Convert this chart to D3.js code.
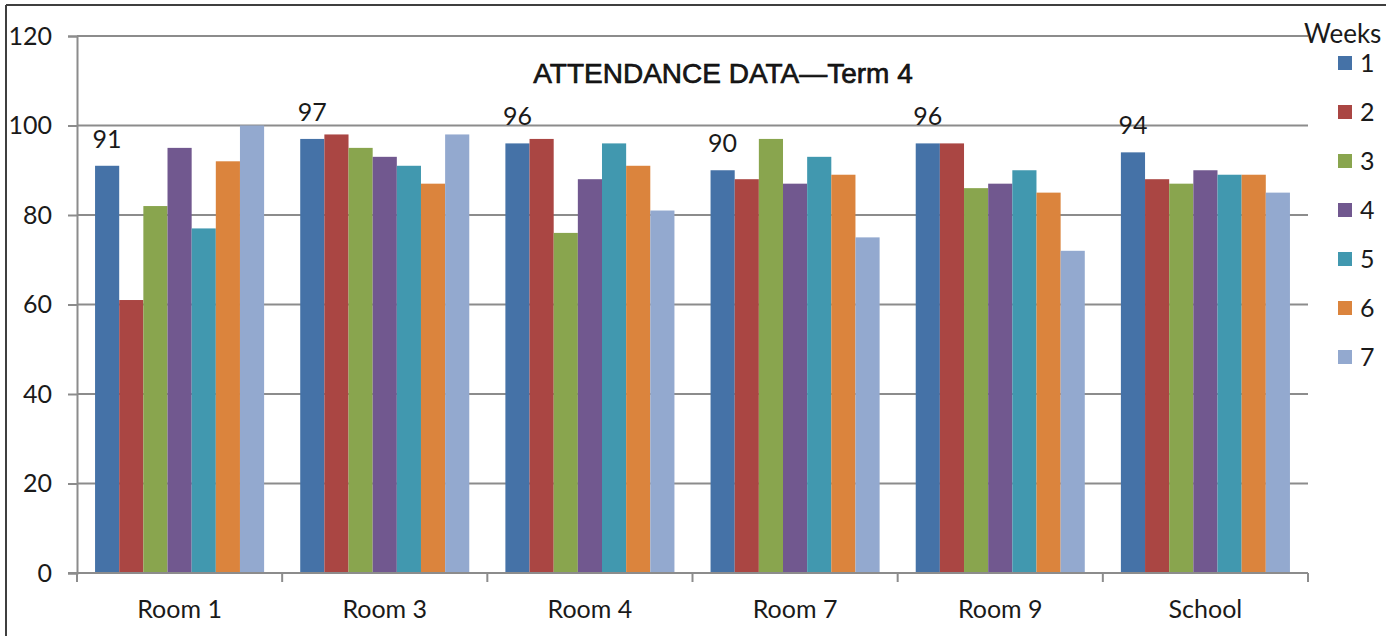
<!DOCTYPE html>
<html>
<head>
<meta charset="utf-8">
<script src="https://cdn.jsdelivr.net/npm/d3@7"></script>
<style>
  body { margin: 0; background: #fff; }
  text { font-family: Lato, "Open Sans", sans-serif; fill: #1a1a1a; }
</style>
</head>
<body>
<script>
// data
var rooms = ["Room 1", "Room 3", "Room 4", "Room 7", "Room 9", "School"];
var weeks = ["1", "2", "3", "4", "5", "6", "7"];
var week1 = [91, 97, 96, 90, 96, 94];
var week2 = [61, 98, 97, 88, 96, 88];
var week3 = [82, 95, 76, 97, 86, 87];
var week4 = [95, 93, 88, 87, 87, 90];
var week5 = [77, 91, 96, 93, 90, 89];
var week6 = [92, 87, 91, 89, 85, 89];
var week7 = [100, 98, 81, 75, 72, 85];
var yTicks = [0, 20, 40, 60, 80, 100, 120];
var colors = ["#4572A7", "#AA4643", "#89A54E", "#71588F", "#4198AF", "#DB843D", "#93A9CF"];

var series = [week1, week2, week3, week4, week5, week6, week7];

var width = 1386, height = 636;
var plotLeft = 77, plotRight = 1308, plotTop = 36, plotBottom = 573;

var svg = d3.select("body").append("svg")
  .attr("width", width).attr("height", height);

// frame (top + left edges visible)
svg.append("line").attr("x1", 6).attr("x2", width).attr("y1", 5).attr("y2", 5)
  .attr("stroke", "#3f3f3f").attr("stroke-width", 2);
svg.append("line").attr("x1", 6).attr("x2", 6).attr("y1", 5).attr("y2", height)
  .attr("stroke", "#3f3f3f").attr("stroke-width", 2);

var y = d3.scaleLinear().domain([0, 120]).range([plotBottom, plotTop]);
var x = d3.scaleBand().domain(rooms).range([plotLeft, plotRight])
  .paddingInner(0.176).paddingOuter(0.088);
var xw = d3.scaleBand().domain(weeks).range([0, x.bandwidth()]);

// gridlines
svg.selectAll(".grid").data(yTicks.filter(function(d){ return d > 0; }))
  .enter().append("line")
  .attr("x1", plotLeft).attr("x2", plotRight)
  .attr("y1", function(d){ return y(d); }).attr("y2", function(d){ return y(d); })
  .attr("stroke", "#8c8c8c").attr("stroke-width", 2);

// bars
var groups = svg.selectAll(".room").data(rooms).enter().append("g")
  .attr("transform", function(d){ return "translate(" + x(d) + ",0)"; });

groups.selectAll("rect")
  .data(function(r, i){ return weeks.map(function(w, j){ return {w: w, j: j, v: series[j][i]}; }); })
  .enter().append("rect")
  .attr("x", function(d){ return xw(d.w); })
  .attr("width", xw.bandwidth())
  .attr("y", function(d){ return y(d.v); })
  .attr("height", function(d){ return y(0) - y(d.v); })
  .attr("fill", function(d){ return colors[d.j]; });

// data labels for week 1
svg.selectAll(".lbl").data(rooms).enter().append("text")
  .attr("x", function(d){ return x(d) + xw("1") + xw.bandwidth() / 2; })
  .attr("y", function(d, i){ return y(week1[i]) - 18; })
  .attr("text-anchor", "middle")
  .style("font-size", "25px")
  .text(function(d, i){ return week1[i]; });

// y axis
var yAxis = d3.axisLeft(y).tickValues(yTicks).tickSize(9).tickPadding(16);
var gy = svg.append("g").attr("transform", "translate(" + plotLeft + ",0)").call(yAxis);
gy.select(".domain").attr("stroke", "#8c8c8c").attr("stroke-width", 2);
gy.selectAll(".tick line").attr("stroke", "#8c8c8c").attr("stroke-width", 2);
gy.selectAll(".tick text").style("font-size", "25px").style("font-family", "Lato, sans-serif").attr("fill", "#1a1a1a");

// x axis
var xAxis = d3.axisBottom(x).tickSize(0).tickPadding(27);
var gx = svg.append("g").attr("transform", "translate(0," + plotBottom + ")").call(xAxis);
gx.select(".domain").remove();
gx.append("line").attr("x1", plotLeft - 9).attr("x2", plotRight).attr("y1", 0).attr("y2", 0)
  .attr("stroke", "#8c8c8c").attr("stroke-width", 2);
gx.selectAll(".tick text").style("font-size", "25px").style("font-family", "Lato, sans-serif").attr("fill", "#1a1a1a");
var bounds = rooms.map(function(d){ return x(d) - x.step() * x.paddingInner() / 2; });
bounds.push(plotRight);
gx.selectAll(".sep").data(bounds).enter().append("line")
  .attr("x1", function(d){ return d; }).attr("x2", function(d){ return d; })
  .attr("y1", 0).attr("y2", 9)
  .attr("stroke", "#8c8c8c").attr("stroke-width", 2);

// title
svg.append("text").attr("x", 723).attr("y", 83).attr("text-anchor", "middle")
  .style("font-family", "'Liberation Sans', Arial, sans-serif")
  .style("font-size", "28px").attr("fill", "#000")
  .attr("stroke", "#000").attr("stroke-width", 0.6)
  .text("ATTENDANCE DATA\u2014Term 4");

// legend
var legend = svg.append("g");
legend.append("text").attr("x", 1304).attr("y", 43).style("font-size", "26px").text("Weeks");
var items = legend.selectAll(".item").data(weeks).enter().append("g")
  .attr("transform", function(d, i){ return "translate(1338," + (63 + i * 49) + ")"; });
items.append("rect").attr("x", 0).attr("y", -7).attr("width", 14).attr("height", 14)
  .attr("fill", function(d, i){ return colors[i]; });
items.append("text").attr("x", 22).attr("y", 9).style("font-size", "25px")
  .text(function(d){ return d; });
</script>
</body>
</html>
